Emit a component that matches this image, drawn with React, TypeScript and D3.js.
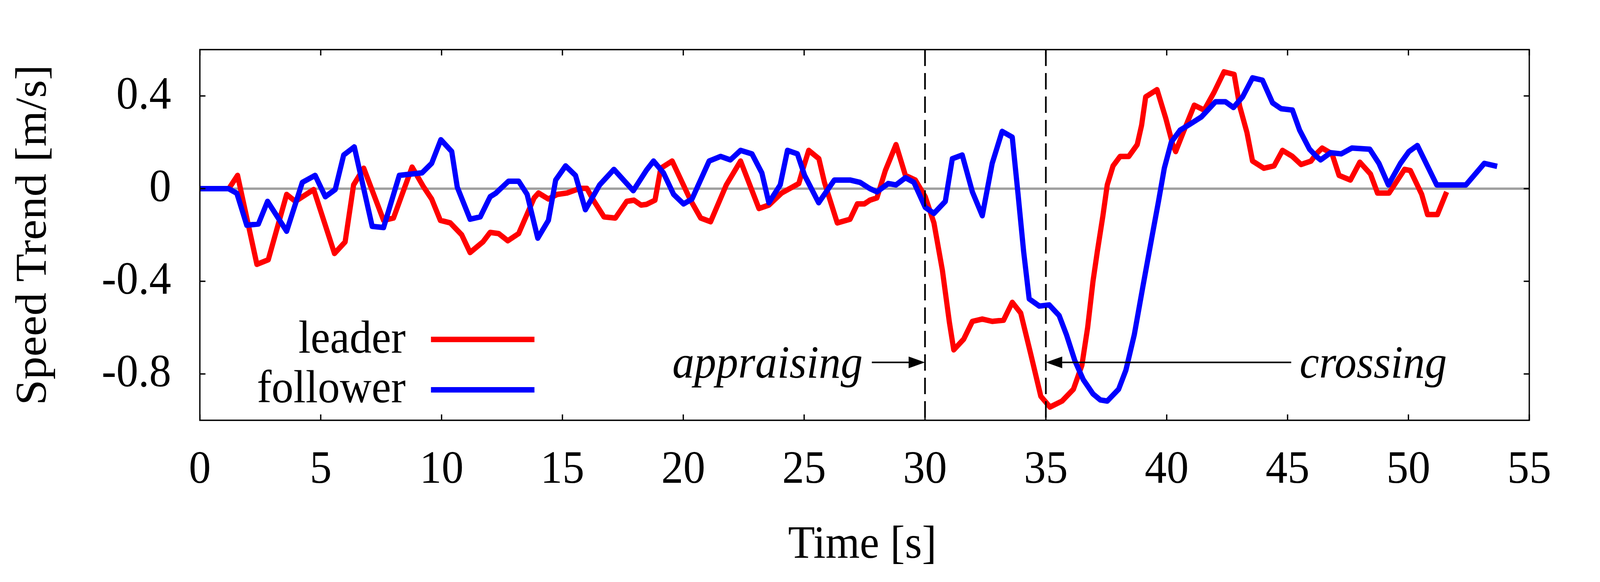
import React from "react";
import * as d3 from "d3";

const leaderT = [1.2,1.56,2.36,2.83,3.59,3.95,4.71,5.57,6.01,6.36,6.78,7.6,8.01,8.78,9.24,9.59,9.95,10.36,10.83,11.18,11.71,12.01,12.36,12.74,13.19,13.83,14.01,14.42,14.78,15.19,15.72,16.01,16.31,16.72,17.19,17.66,17.96,18.25,18.48,18.83,19.07,19.54,20.3,20.72,21.13,21.78,22.37,23.13,23.54,24.07,24.78,24.96,25.19,25.61,25.84,26.37,26.9,27.2,27.49,27.72,28.01,28.36,28.8,29.19,29.6,30.01,30.37,30.72,31.01,31.19,31.6,31.96,32.37,32.78,33.25,33.61,33.96,34.37,34.79,35.17,35.67,36.14,36.49,36.73,36.95,37.13,37.36,37.54,37.78,38.07,38.43,38.78,38.96,39.13,39.6,39.96,40.25,40.37,40.72,41.14,41.55,41.96,42.37,42.79,43.02,43.32,43.55,44.02,44.44,44.79,45.2,45.56,45.97,46.19,46.43,46.84,47.13,47.6,47.99,48.43,48.72,49.2,49.84,50.08,50.55,50.79,51.2,51.58];
const leaderV = [0,0.057,-0.327,-0.307,-0.025,-0.055,-0.004,-0.28,-0.23,0.016,0.088,-0.137,-0.127,0.093,0.01,-0.045,-0.137,-0.148,-0.199,-0.276,-0.23,-0.189,-0.194,-0.225,-0.194,-0.04,-0.019,-0.045,-0.025,-0.019,0.001,0.001,-0.055,-0.122,-0.127,-0.055,-0.05,-0.071,-0.068,-0.05,0.088,0.119,-0.05,-0.127,-0.143,0.016,0.119,-0.086,-0.071,-0.019,0.022,0.088,0.165,0.129,0.027,-0.148,-0.132,-0.066,-0.066,-0.05,-0.04,0.078,0.19,0.057,0.037,-0.035,-0.148,-0.353,-0.578,-0.696,-0.65,-0.573,-0.563,-0.573,-0.568,-0.491,-0.537,-0.712,-0.896,-0.943,-0.917,-0.866,-0.763,-0.599,-0.4,-0.271,-0.117,0.016,0.098,0.139,0.139,0.19,0.273,0.396,0.427,0.304,0.19,0.16,0.252,0.36,0.339,0.416,0.504,0.493,0.355,0.242,0.119,0.088,0.098,0.165,0.139,0.104,0.119,0.15,0.175,0.15,0.057,0.037,0.114,0.063,-0.019,-0.019,0.083,0.078,-0.025,-0.112,-0.112,-0.014];

const followerT = [0,1.18,1.53,1.94,2.42,2.8,3.59,4.24,4.77,5.19,5.6,5.95,6.39,7.13,7.6,8.25,9.19,9.59,9.97,10.42,10.65,11.18,11.6,12.01,12.24,12.77,13.19,13.54,13.98,14.42,14.72,15.13,15.54,15.95,16.54,17.13,17.93,18.48,18.77,19.18,19.6,20.01,20.36,21.07,21.54,21.95,22.37,22.84,23.25,23.54,24.01,24.31,24.72,25.02,25.6,26.25,26.9,27.31,27.72,28.01,28.48,28.8,29.19,29.54,30.01,30.37,30.84,31.13,31.54,31.96,32.37,32.78,33.19,33.61,33.84,34.08,34.31,34.73,35.14,35.55,35.85,36.2,36.55,36.95,37.25,37.54,38.01,38.31,38.66,39.01,39.37,39.66,39.9,40.19,40.55,40.96,41.43,42.02,42.43,42.76,43.14,43.55,43.96,44.38,44.73,45.2,45.5,45.91,46.19,46.37,46.78,47.22,47.66,48.4,48.78,49.17,49.67,50.02,50.37,51.17,52.38,53.14,53.67];
const followerV = [0,0,-0.02,-0.158,-0.153,-0.055,-0.184,0.027,0.057,-0.035,-0.004,0.145,0.18,-0.163,-0.168,0.057,0.068,0.109,0.211,0.16,0.006,-0.132,-0.122,-0.035,-0.02,0.032,0.032,-0.025,-0.214,-0.137,0.037,0.098,0.057,-0.091,0.016,0.083,-0.009,0.08,0.119,0.068,-0.025,-0.066,-0.045,0.119,0.139,0.124,0.165,0.15,0.068,-0.061,0.016,0.165,0.15,0.057,-0.061,0.037,0.037,0.027,0,-0.014,0.022,0.016,0.047,0.027,-0.081,-0.107,-0.055,0.129,0.145,-0.014,-0.117,0.109,0.247,0.222,-0.014,-0.271,-0.476,-0.507,-0.502,-0.548,-0.63,-0.743,-0.825,-0.886,-0.912,-0.917,-0.866,-0.784,-0.63,-0.425,-0.219,-0.055,0.088,0.201,0.252,0.278,0.309,0.375,0.375,0.35,0.396,0.478,0.468,0.37,0.345,0.339,0.252,0.17,0.139,0.124,0.155,0.15,0.175,0.17,0.109,0.016,0.109,0.16,0.186,0.016,0.016,0.109,0.096];

const xTicks = [0,5,10,15,20,25,30,35,40,45,50,55];
const yTicks = [0.4,0,-0.4,-0.8];
const yTickLabels = ["0.4","0","-0.4","-0.8"];
const eventTimes = [30,35];
const seriesNames = ["leader","follower"];
const seriesColors = ["#ff0000","#0000ff"];

const W = 4299, H = 1490;
const L = 537, R = 4109, T = 127, B = 1076;
const FONT = "'Liberation Serif', 'Times New Roman', Times, serif";
const FS = 118;

export default function App() {
  const x = d3.scaleLinear().domain([0, 55]).range([L, R]);
  const y = d3.scaleLinear().domain([-1, 0.6]).range([B, T]);
  const line = d3.line<[number, number]>().x(d => x(d[0])).y(d => y(d[1]));
  const leaderPts: [number, number][] = leaderT.map((t, i) => [t, leaderV[i]]);
  const followerPts: [number, number][] = followerT.map((t, i) => [t, followerV[i]]);
  const arrowY = y(-0.75);
  const tick = 15;
  const head = (tipX: number, dir: number) => {
    const bx = tipX - dir * 44;
    return `M${tipX},${arrowY} L${bx},${arrowY - 15} L${bx},${arrowY + 15} Z`;
  };
  return (
    <svg
      viewBox={`0 0 ${W} ${H}`}
      preserveAspectRatio="none"
      style={{ position: "fixed", left: 0, top: 0, width: "100vw", height: "100vh", background: "#fff", display: "block" }}
      fontFamily={FONT}
    >
      <rect x={0} y={0} width={W} height={H} fill="#fff" />
      <line x1={x(0)} x2={x(55)} y1={y(0)} y2={y(0)} stroke="#a0a0a0" strokeWidth={6} />
      <path d={line(leaderPts) || ""} fill="none" stroke={seriesColors[0]} strokeWidth={14} strokeLinejoin="round" />
      <path d={line(followerPts) || ""} fill="none" stroke={seriesColors[1]} strokeWidth={14} strokeLinejoin="round" />
      {eventTimes.map(t => (
        <line key={t} x1={x(t)} x2={x(t)} y1={T} y2={B} stroke="#000" strokeWidth={4.5} strokeDasharray="42 18" />
      ))}
      <line x1={x(27.8)} x2={x(30) - 44} y1={arrowY} y2={arrowY} stroke="#000" strokeWidth={4} />
      <path d={head(x(30), 1)} fill="#000" />
      <line x1={x(45.15)} x2={x(35) + 44} y1={arrowY} y2={arrowY} stroke="#000" strokeWidth={4} />
      <path d={head(x(35), -1)} fill="#000" />
      <text x={x(27.42)} y={y(-0.817)} fontSize={FS} fontStyle="italic" textAnchor="end">appraising</text>
      <text x={x(45.5)} y={y(-0.817)} fontSize={FS} fontStyle="italic" textAnchor="start">crossing</text>
      {seriesNames.map((n, i) => (
        <g key={n}>
          <text x={1090} y={903 + i * 127} fontSize={FS} textAnchor="end">{n}</text>
          <line x1={1158} x2={1436} y1={869 + i * 129} y2={869 + i * 129} stroke={seriesColors[i]} strokeWidth={14} />
        </g>
      ))}
      <rect x={L} y={T} width={R - L} height={B - T} fill="none" stroke="#000" strokeWidth={3.5} />
      {xTicks.map(t => (
        <g key={t}>
          <line x1={x(t)} x2={x(t)} y1={B} y2={B - tick} stroke="#000" strokeWidth={3.5} />
          <line x1={x(t)} x2={x(t)} y1={T} y2={T + tick} stroke="#000" strokeWidth={3.5} />
          <text x={x(t)} y={1236} fontSize={FS} textAnchor="middle">{t}</text>
        </g>
      ))}
      {yTicks.map((v, i) => (
        <g key={v}>
          <line x1={L} x2={L + tick} y1={y(v)} y2={y(v)} stroke="#000" strokeWidth={3.5} />
          <line x1={R} x2={R - tick} y1={y(v)} y2={y(v)} stroke="#000" strokeWidth={3.5} />
          <text x={460} y={y(v) + 32} fontSize={FS} textAnchor="end">{yTickLabels[i]}</text>
        </g>
      ))}
      <text x={(L + R) / 2 - 6} y={1428} fontSize={FS} textAnchor="middle">Time [s]</text>
      <text transform={`translate(123, ${(T + B) / 2}) rotate(-90)`} fontSize={FS} textAnchor="middle">Speed Trend [m/s]</text>
    </svg>
  );
}
